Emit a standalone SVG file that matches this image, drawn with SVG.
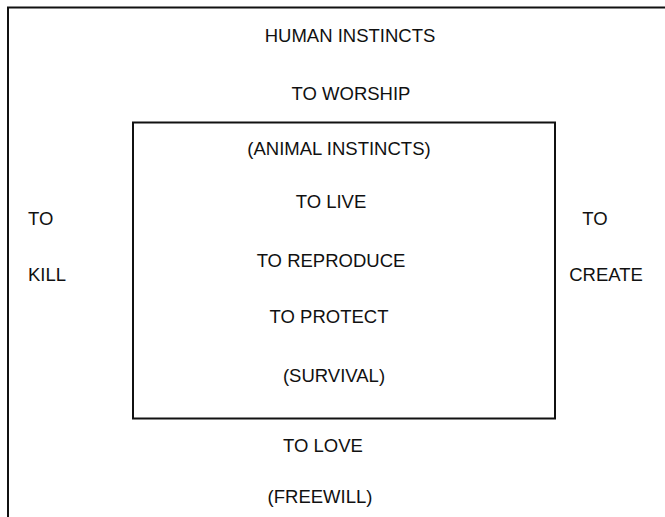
<svg xmlns="http://www.w3.org/2000/svg" width="665" height="517" viewBox="0 0 665 517">
<style>
.t{font-family:"Liberation Sans",Arial,sans-serif;font-size:18.5px;fill:#111;}
.c{text-anchor:middle;}
.box{fill:none;stroke:#111;stroke-width:2;}
</style>
<rect width="665" height="517" fill="#fff"/>
<g id="human-instincts">
<path class="box" d="M8,517 V7.5 H666"/>
<text class="t c" x="350" y="42">HUMAN INSTINCTS</text>
<text class="t c" x="351" y="100">TO WORSHIP</text>
<text class="t" x="28" y="225">TO</text>
<text class="t" x="28" y="281">KILL</text>
<text class="t c" x="595" y="225">TO</text>
<text class="t c" x="606" y="281">CREATE</text>
<text class="t c" x="323" y="452">TO LOVE</text>
<text class="t c" x="320" y="503">(FREEWILL)</text>
</g>
<g id="animal-instincts">
<rect class="box" x="133" y="122.5" width="422" height="296"/>
<text class="t c" x="339" y="155">(ANIMAL INSTINCTS)</text>
<text class="t c" x="331" y="208">TO LIVE</text>
<text class="t c" x="331" y="267">TO REPRODUCE</text>
<text class="t c" x="329" y="323">TO PROTECT</text>
<text class="t c" x="334" y="382">(SURVIVAL)</text>
</g>
<g id="connectors"></g>
</svg>
